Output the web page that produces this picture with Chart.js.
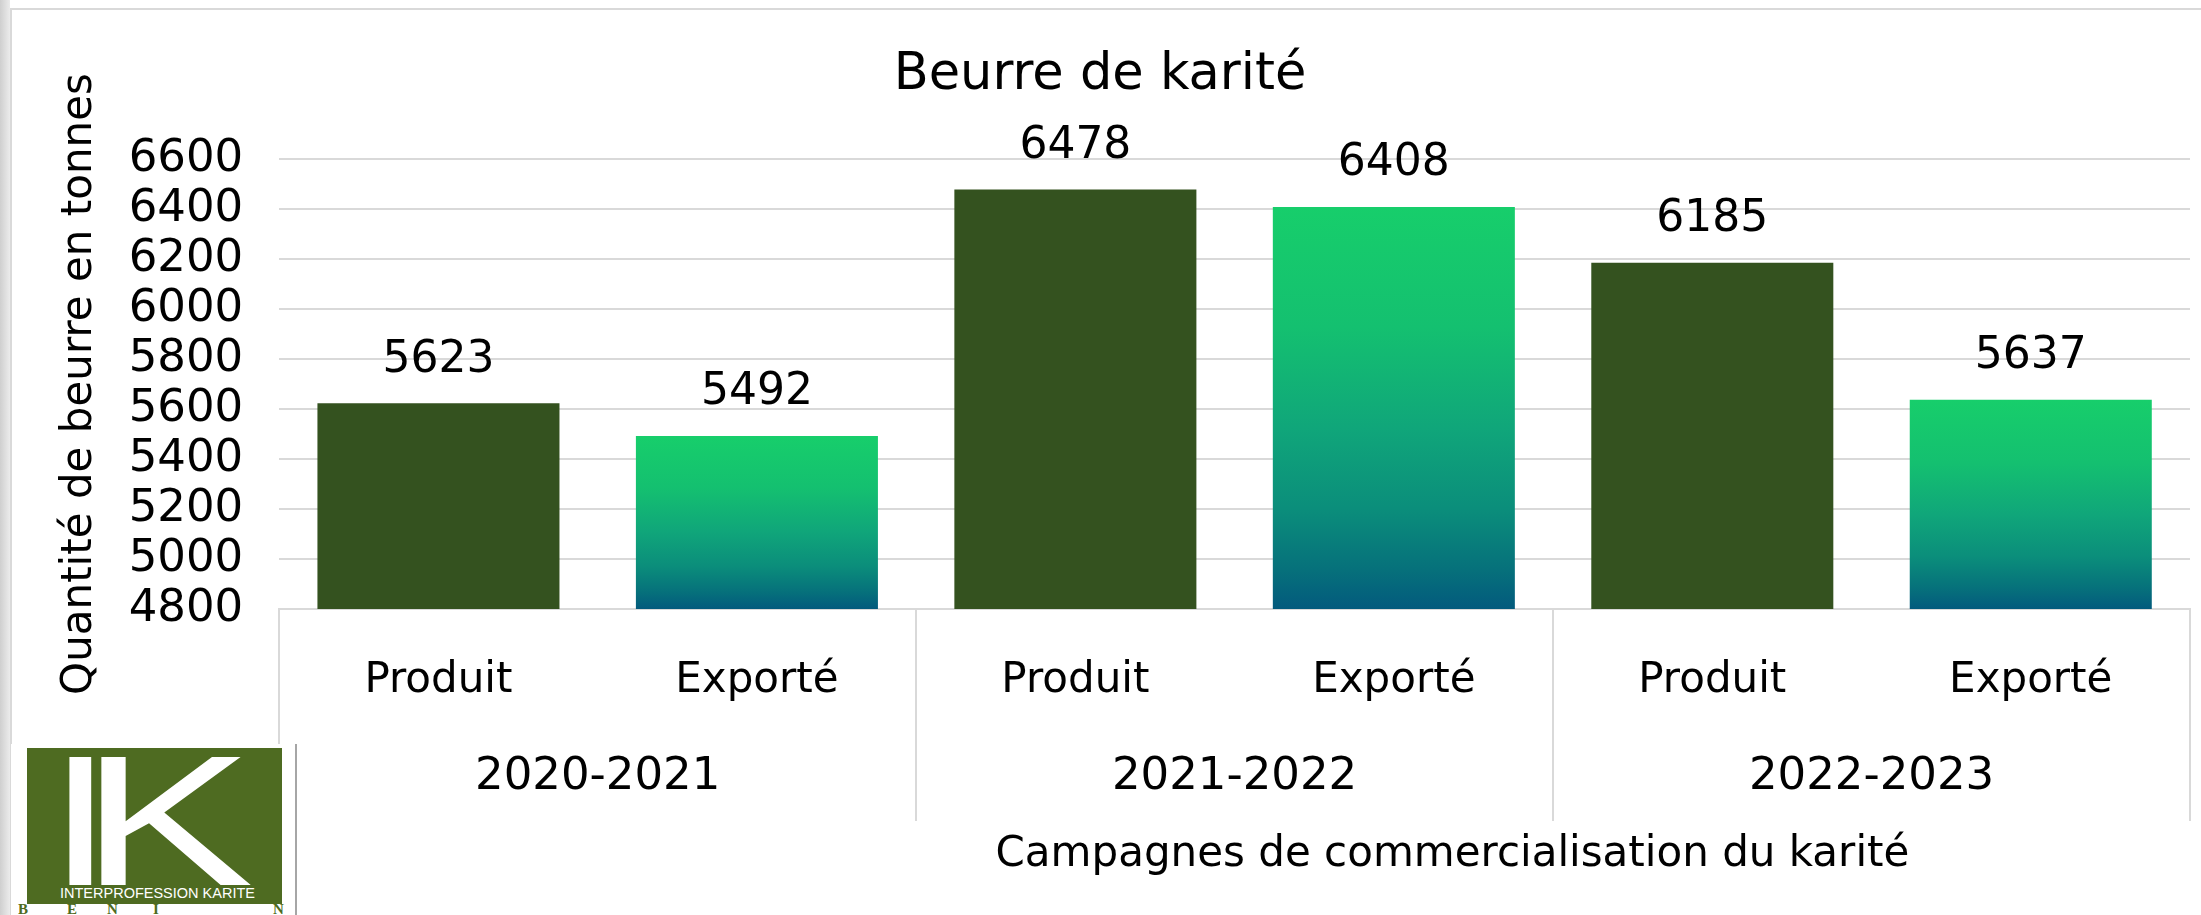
<!DOCTYPE html>
<html lang="fr">
<head>
<meta charset="utf-8">
<title>Beurre de karité</title>
<script src="https://cdn.jsdelivr.net/npm/chart.js@4.4.1/dist/chart.umd.min.js"></script>
<style>
  html, body { margin: 0; padding: 0; }
  body {
    width: 2201px; height: 915px; overflow: hidden; position: relative;
    background: linear-gradient(to right, #cfcfcf 0px, #ececec 10px, #ffffff 10px);
  }
  #cadre {
    position: absolute; left: 10px; top: 8px; right: 0; bottom: 0; background: #fff;
    border-top: 2px solid #d9d9d9; border-left: 2px solid #d9d9d9;
  }
  #graphique { position: absolute; left: 0; top: 0; }
  #logo {
    position: absolute; left: 11px; top: 744px; width: 284px; height: 171px;
    background: #fff; border-right: 2px solid #a6a6a6; overflow: hidden;
  }
  #logo .carre {
    position: absolute; left: 16px; top: 4px; width: 255px; height: 156px;
    background: #4e6b21; overflow: hidden;
  }
  #logo .lettre {
    position: absolute; top: -20px; color: #fff;
    font: 186px/186px 'Liberation Sans', sans-serif;
    transform-origin: left top;
  }
  #logo .i { transform: scaleX(1.25); }
  #logo .k { transform: scaleX(1.4); }
  #logo .nom {
    position: absolute; left: 33px; top: 137px; color: #fff; white-space: nowrap;
    font: 14.5px/16px 'Liberation Sans', sans-serif;
  }
  #logo .pays {
    position: absolute; top: 158px; color: #4e6b21;
    font: bold 15px/15px 'Liberation Serif', serif;
  }
</style>
</head>
<body>
<div id="cadre"></div>
<canvas id="graphique" width="2201" height="915"></canvas>
<div id="logo">
  <div class="carre">
    <span class="lettre i" style="left:21px">I</span>
    <span class="lettre k" style="left:53px">K</span>
    <span class="nom">INTERPROFESSION KARITE</span>
  </div>
  <span class="pays" style="left:7px">B</span>
  <span class="pays" style="left:56px">E</span>
  <span class="pays" style="left:96px">N</span>
  <span class="pays" style="left:142px">I</span>
  <span class="pays" style="left:262px">N</span>
</div>
<script>
// données
const campagnes = ['2020-2021', '2021-2022', '2022-2023'];
const typesQuantite = ['Produit', 'Exporté'];
const produit = [5623, 6478, 6185];
const exporte = [5492, 6408, 5637];
const axeYMin = 4800;
const axeYMax = 6600;
const axeYPas = 200;

const VERT_FONCE = '#34521f';
const GRILLE = '#d9d9d9';
Chart.defaults.font.family = "'DejaVu Sans', sans-serif";
Chart.defaults.color = '#000';

// une barre Produit puis une barre Exporté pour chaque campagne
const etiquettes = [];
const valeurs = [];
campagnes.forEach((c, i) => {
    etiquettes.push(typesQuantite[0], typesQuantite[1]);
    valeurs.push(produit[i], exporte[i]);
});

// dégradé vert -> bleu pour les barres "Exporté", calé sur la hauteur de chaque barre
function couleurBarre(ctx) {
    if (ctx.type !== 'data' || ctx.dataIndex % 2 === 0) return VERT_FONCE;
    const y = ctx.chart.scales.y;
    if (!y || !ctx.chart.chartArea) return '#17ce6b';
    const haut = y.getPixelForValue(ctx.raw);
    const bas = y.getPixelForValue(y.min);
    if (!isFinite(haut) || !isFinite(bas) || haut === bas) return '#17ce6b';
    const g = ctx.chart.ctx.createLinearGradient(0, haut, 0, bas);
    g.addColorStop(0, '#17ce6b');
    g.addColorStop(0.3, '#14c070');
    g.addColorStop(0.55, '#10a67a');
    g.addColorStop(0.75, '#0b8e7b');
    g.addColorStop(0.9, '#06717b');
    g.addColorStop(1, '#035a7d');
    return g;
}

// trait de séparation seulement entre les campagnes
const limiteGroupe = ctx => (ctx.index === undefined || ctx.index % 2 === 0) ? GRILLE : 'rgba(0,0,0,0)';

const etiquettesValeurs = {
    id: 'etiquettesValeurs',
    afterDatasetsDraw(chart) {
        const ctx = chart.ctx;
        ctx.save();
        ctx.font = "44px 'DejaVu Sans'";
        ctx.fillStyle = '#000';
        ctx.textAlign = 'center';
        ctx.textBaseline = 'middle';
        chart.getDatasetMeta(0).data.forEach((barre, i) => ctx.fillText(valeurs[i], barre.x, barre.y - 43));
        ctx.restore();
    }
};

const titreAxeX = {
    id: 'titreAxeX',
    afterDraw(chart) {
        const x = chart.scales.x;
        const ctx = chart.ctx;
        ctx.save();
        ctx.font = "42px 'DejaVu Sans'";
        ctx.fillStyle = '#000';
        ctx.textAlign = 'center';
        ctx.textBaseline = 'middle';
        ctx.fillText('Campagnes de commercialisation du karité', x.left + x.width * 0.614, chart.scales.x2.bottom + 34);
        ctx.restore();
    }
};

new Chart(document.getElementById('graphique'), {
    type: 'bar',
    data: {
        labels: etiquettes,
        datasets: [{ data: valeurs, backgroundColor: couleurBarre, borderWidth: 0, categoryPercentage: 1, barPercentage: 0.76 }]
    },
    options: {
        responsive: false,
        devicePixelRatio: 1,
        animation: false,
        layout: { padding: { left: 10, right: 11, top: 0, bottom: 94 } },
        plugins: {
            legend: { display: false },
            tooltip: { enabled: false },
            title: {
                display: true, text: 'Beurre de karité', color: '#000',
                font: { size: 51, weight: 'normal' }, padding: { top: 45, bottom: 52.8 }
            }
        },
        scales: {
            x: {
                weight: 0,
                offset: true,
                grid: { offset: true, drawOnChartArea: false, tickLength: 119, lineWidth: 2, color: limiteGroupe, tickColor: limiteGroupe },
                border: { color: GRILLE, width: 2 },
                ticks: { color: '#000', font: { size: 42 }, padding: -72.2, autoSkip: false, maxRotation: 0 },
                afterFit: s => { s.height = 119; }
            },
            x2: {
                type: 'category',
                labels: campagnes,
                position: 'bottom',
                weight: 1,
                offset: true,
                grid: { offset: true, drawOnChartArea: false, tickLength: 93, lineWidth: 2, color: GRILLE },
                border: { display: false },
                ticks: { color: '#000', font: { size: 45 }, padding: -71, autoSkip: false, maxRotation: 0 },
                afterFit: s => { s.height = 93; }
            },
            y: {
                min: axeYMin,
                max: axeYMax,
                ticks: { stepSize: axeYPas, autoSkip: false, color: '#000', font: { size: 45 }, padding: 36, callback: v => String(v) },
                grid: { color: GRILLE, lineWidth: 2, drawTicks: false },
                border: { display: false },
                title: {
                    display: true, text: 'Quantité de beurre en tonnes', color: '#000',
                    font: { size: 42 }, padding: { top: 45, bottom: -12.7 }
                }
            }
        }
    },
    plugins: [etiquettesValeurs, titreAxeX]
});
</script>
</body>
</html>
